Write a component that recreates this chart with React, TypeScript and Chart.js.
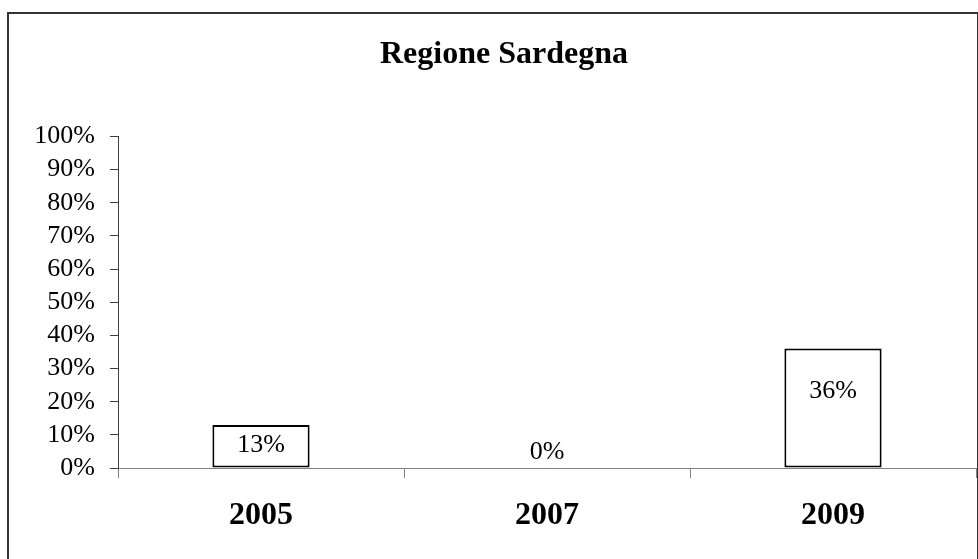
import React, { useEffect, useRef } from "react";
import { Chart, registerables } from "chart.js";

Chart.register(...registerables);

const chartTitle = "Regione Sardegna";
const categories = ["2005", "2007", "2009"];
const values = [13, 0, 36];
const dataLabels = ["13%", "0%", "36%"];
const yMin = 0;
const yMax = 100;
const yStep = 10;

const FONT = "'Liberation Serif', 'Times New Roman', serif";

const dataLabelPlugin = {
  id: "barValueLabels",
  afterDatasetsDraw(chart: any) {
    const ctx = chart.ctx;
    const meta = chart.getDatasetMeta(0);
    ctx.save();
    ctx.font = `26px ${FONT}`;
    ctx.fillStyle = "#000";
    ctx.textAlign = "center";
    ctx.textBaseline = "middle";
    meta.data.forEach((bar: any, i: number) => {
      const { x, y, base } = bar.getProps(["x", "y", "base"], true);
      const h = base - y;
      const ly = base - Math.max(16, h * 0.7 - 7);
      ctx.fillText(dataLabels[i], x, ly);
    });
    ctx.restore();
  },
};

const titleShiftPlugin = {
  id: "titleShift",
  afterLayout(chart: any) {
    const t = chart.titleBlock;
    if (t) t.left += 24;
  },
};

export default function App() {
  const ref = useRef<HTMLCanvasElement | null>(null);

  useEffect(() => {
    if (!ref.current) return;
    const chart = new Chart(ref.current, {
      type: "bar",
      data: {
        labels: categories,
        datasets: [
          {
            data: values,
            backgroundColor: "#ffffff",
            borderColor: "#000000",
            borderWidth: 2,
            borderSkipped: false,
            categoryPercentage: 1,
            barPercentage: 0.34,
          },
        ],
      },
      options: {
        responsive: false,
        animation: false,
        layout: { padding: { top: 13, left: 8, right: 2, bottom: 23 } },
        plugins: {
          legend: { display: false },
          tooltip: { enabled: false },
          title: {
            display: true,
            text: chartTitle,
            color: "#000",
            font: { family: FONT, size: 32, weight: "bold" },
            padding: { top: 23, bottom: 62 },
          },
        },
        scales: {
          x: {
            grid: {
              offset: true,
              drawOnChartArea: false,
              drawTicks: true,
              tickLength: 10,
              color: "#808080",
            },
            border: { color: "#808080", width: 1 },
            ticks: {
              color: "#000",
              padding: 19,
              font: { family: FONT, size: 32, weight: "bold" },
            },
            afterFit: (scale: any) => {
              scale.height = 68;
            },
          },
          y: {
            min: yMin,
            max: yMax,
            grid: {
              drawOnChartArea: false,
              drawTicks: true,
              tickLength: 8,
              color: "#404040",
            },
            border: { color: "#404040", width: 1 },
            ticks: {
              stepSize: yStep,
              autoSkip: false,
              color: "#000",
              padding: 15,
              font: { family: FONT, size: 26 },
              callback: (v: any) => `${v}%`,
            },
            afterFit: (scale: any) => {
              scale.width = 110;
            },
          },
        },
      },
      plugins: [dataLabelPlugin, titleShiftPlugin],
    });
    return () => chart.destroy();
  }, []);

  return (
    <div style={{ position: "fixed", left: 0, top: 0, width: 978, height: 559, background: "#fff", overflow: "hidden" }}>
      <canvas ref={ref} width={978} height={559} style={{ display: "block" }} />
      <div
        style={{
          position: "absolute",
          left: 7,
          top: 12,
          width: 972,
          height: 600,
          boxSizing: "border-box",
          border: "2px solid #333",
          pointerEvents: "none",
        }}
      />
    </div>
  );
}
